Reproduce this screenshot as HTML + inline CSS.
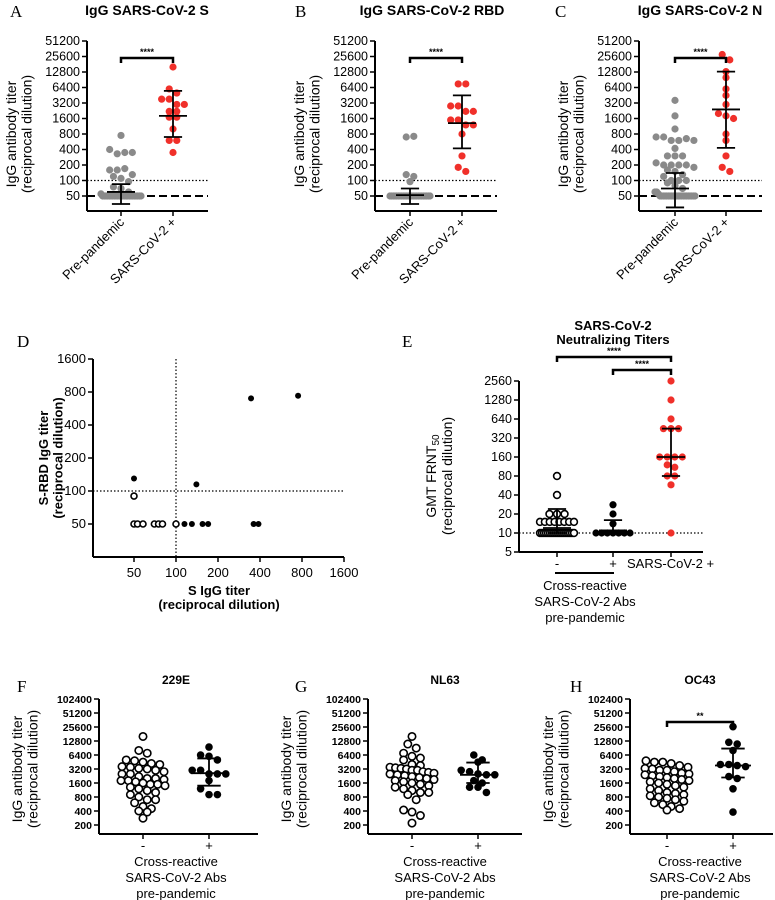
<!DOCTYPE html>
<html><head><meta charset="utf-8">
<style>
html,body{margin:0;padding:0;background:#fff;}
svg{display:block;font-family:"Liberation Sans",Arial,sans-serif;}
.lt{font-family:"Liberation Serif",serif;font-size:17px;}
</style></head>
<body>
<svg id="fig" width="775" height="900" viewBox="0 0 775 900" xmlns="http://www.w3.org/2000/svg"></svg>
<script>
// ---------- data ----------
const ticksAC = [50,100,200,400,800,1600,3200,6400,12800,25600,51200];
const ticksFH = [200,400,800,1600,3200,6400,12800,25600,51200,102400];
const ticksE = [5,10,20,40,80,160,320,640,1280,2560];
const ticksD = [50,100,200,400,800,1600];
const catsAC = ["Pre-pandemic","SARS-CoV-2 +"];
const catsFH = ["-","+"];

const aPre = [750,400,330,350,350,160,160,170,120,130,110,95,75,70,60,55,50,50,50,50,50,50,50,50,50,50,50,50,50,50,50,50,50,50,50,50,50,50,50,50];
const aPos = [16000,6000,5000,3800,3800,3000,3000,2200,2200,1700,1700,1000,600,600,350];
const aErr = [[60,35,85],[1800,700,5500]];

const bPre = [700,720,130,120,95,50,50,50,50,50,50,50,50,50,50,50,50,50,50,50,50,50,50,50,50,50,50,50,50,50];
const bPos = [7500,7500,2800,2800,2200,2200,1500,1500,1200,1200,800,300,180,150];
const bErr = [[52,35,70],[1300,420,4500]];

const cPre = [3600,1800,1000,700,700,600,600,650,600,420,300,300,300,220,200,200,200,200,180,160,150,130,120,100,100,100,90,80,70,60,60,55,50,50,50,50,50,50,50,50,50,50,50,50,50,50,50,50,50,50,50,50,50,50];
const cPos = [28000,22000,13000,10000,6000,4500,3000,2000,1800,1600,800,600,300,180,150];
const cErr = [[70,30,140],[2400,430,13000]];

const dOpenX = [50,50,53,58,70,75,80,100];
const dOpenY = [90,50,50,50,50,50,50,50];
const dFillX = [50,140,115,130,155,170,345,360,390,750];
const dFillY = [130,115,50,50,50,50,700,50,50,740];

const eNeg = [80,40,20,20,20,15,15,15,15,15,15,15,15,10,10,10,10,10,10,10,10,10,10,10,10,10,10,10,10,10,10];
const ePos = [28,20,14,10,10,10,10,10,10,10];
const eSars = [2560,1280,640,450,450,450,160,160,160,160,120,110,80,80,58,10];
const eErr = [[12,10,24],[11,10,16],[160,80,450]];

const fNeg = [16000,8000,7000,5000,4800,4500,4200,4000,3600,3500,3300,3200,3000,2800,2500,2500,2200,2000,2000,1900,1800,1800,1700,1600,1500,1500,1400,1300,1200,1100,1000,900,800,700,700,600,500,450,400,380,280];
const fPos = [9500,6400,6000,5000,3000,3000,2500,2500,2500,1800,1200,900,900];
const fErr = [2600,1400,5400];
const gNeg = [16000,11000,9000,7000,6000,5500,5000,4000,3800,3500,3400,3300,3200,3000,3000,2800,2700,2600,2500,2400,2300,2200,2100,2000,1900,1800,1700,1600,1500,1400,1300,1200,1100,1000,1000,900,700,420,380,320,220];
const gPos = [6400,5000,4500,3000,2800,2500,2400,2400,1800,1300,1300,1600,1000];
const gErr = [2400,1600,4400];
const hNeg = [4800,4500,4500,4200,3800,3500,3300,3200,3000,3000,2800,2600,2500,2400,2300,2200,2100,2000,1900,1800,1700,1600,1500,1400,1300,1200,1100,1000,950,900,850,800,750,700,650,600,550,500,450,420];
const hPos = [26000,12000,11000,8000,4000,4000,3800,3600,2200,2000,1200,380];
const hErr = [3800,2100,8800];

// ---------- helpers ----------
const NS="http://www.w3.org/2000/svg";
const fig=document.getElementById('fig');
function mk(tag,attrs,parent,txt){const e=document.createElementNS(NS,tag);for(const k in attrs)e.setAttribute(k,attrs[k]);if(txt!==undefined)e.textContent=txt;(parent||fig).appendChild(e);return e;}
function logScale(base,y0,step){return v=>y0-Math.log2(v/base)*step;}
// bin-based swarm with maximum half-width W (points overlap when crowded)
function swarm(vals,cx,yf,r,W){
  const bins=[];
  vals.forEach(v=>{const y=yf(v);let b=bins.find(b=>Math.abs(b.y-y)<r*1.6);
    if(!b){b={y:y,items:[]};bins.push(b);}b.items.push(y);});
  const out=[];
  bins.forEach(b=>{const n=b.items.length;const step=n>1?Math.min(r*2.1,2*W/(n-1)):0;
    b.items.forEach((y,i)=>{const k=i-(n-1)/2;out.push([cx+k*step,y]);});});
  return out;}
function yAxis(g,x,ticks,yf,yBot,fs,bold){
  const ax=mk('line',{x1:x,y1:yf(ticks[ticks.length-1]),x2:x,y2:yBot,stroke:'#000','stroke-width':2},g);
  
  ticks.forEach(t=>{const y=yf(t);mk('line',{x1:x-5,y1:y,x2:x,y2:y,stroke:'#000','stroke-width':1.5},g);
    const tl=mk('text',{x:x-7,y:y+4,'text-anchor':'end','font-size':fs,'font-weight':bold?'bold':'normal'},g,t);
    });}
function errBar(g,cx,yf,e,w){
  mk('line',{x1:cx,y1:yf(e[1]),x2:cx,y2:yf(e[2]),stroke:'#000','stroke-width':1.8},g);
  mk('line',{x1:cx-w,y1:yf(e[0]),x2:cx+w,y2:yf(e[0]),stroke:'#000','stroke-width':1.8},g);
  mk('line',{x1:cx-w*0.65,y1:yf(e[1]),x2:cx+w*0.65,y2:yf(e[1]),stroke:'#000','stroke-width':1.8},g);
  mk('line',{x1:cx-w*0.65,y1:yf(e[2]),x2:cx+w*0.65,y2:yf(e[2]),stroke:'#000','stroke-width':1.8},g);}
function dots(g,pts,r,fill,stroke,name){pts.forEach(p=>{const c=mk('circle',{cx:p[0],cy:p[1],r:r,fill:fill,stroke:stroke,'stroke-width':stroke==='none'?0:1.6},g);
  });}
function bracket(g,x1,x2,y,lab){mk('path',{d:`M${x1} ${y+5}V${y}H${x2}V${y+5}`,fill:'none',stroke:'#000','stroke-width':2.5},g);
  mk('text',{x:(x1+x2)/2,y:y-3,'text-anchor':'middle','font-size':9,'font-weight':'bold'},g,lab);}
function yTitle(g,x,y,l1,l2,fs,bold){const t=mk('text',{transform:`translate(${x},${y}) rotate(-90)`,'text-anchor':'middle','font-size':fs,'font-weight':bold?'bold':'normal'},g);
  
  mk('tspan',{x:0,dy:0},t,l1);mk('tspan',{x:0,dy:fs*1.1},t,l2);}

// ---------- panels A-C ----------
function panelAC(id,letter,lx,title,tx,ax,cx1,cx2,xend,pre,pos,err){
  const g=mk('g',{});
  mk('text',{x:lx,y:17,class:'lt'},g,letter);
  const tt=mk('text',{x:tx,y:15,'text-anchor':'middle','font-size':14,'font-weight':'bold'},g,title);
  
  const yf=logScale(50,196,15.5);
  yAxis(g,ax,ticksAC,yf,211,12.5,false);
  mk('line',{x1:ax,y1:211,x2:xend,y2:211,stroke:'#000','stroke-width':2},g);
  [cx1,cx2].forEach((cx,i)=>{mk('line',{x1:cx,y1:211,x2:cx,y2:216,stroke:'#000','stroke-width':1.5},g);
    const l=mk('text',{transform:`translate(${cx+4},${223}) rotate(-45)`,'text-anchor':'end','font-size':13},g,catsAC[i]);
    });
  mk('line',{x1:ax,y1:yf(100),x2:xend,y2:yf(100),stroke:'#000','stroke-width':1.2,'stroke-dasharray':'1.5,2'},g);
  mk('line',{x1:ax,y1:yf(50),x2:xend,y2:yf(50),stroke:'#000','stroke-width':2,'stroke-dasharray':'8,4'},g);
  dots(g,swarm(pre,cx1,yf,3.6,20),3.6,'#8a8a8a','none','pre-pandemic-point');
  dots(g,swarm(pos,cx2,yf,3.6,20),3.6,'#f0302a','none','sars-cov-2-point');
  errBar(g,cx1,yf,err[0],14);errBar(g,cx2,yf,err[1],14);
  bracket(g,cx1,cx2,yf(51200)+17,'****');
  yTitle(g,ax-71,yf(800),'IgG antibody titer','(reciprocal dilution)',14,false);
}
panelAC('a','A',10,'IgG SARS-CoV-2 S',147,87,121,173,208,aPre,aPos,aErr);
panelAC('b','B',295,'IgG SARS-CoV-2 RBD',432,375,410,462,497,bPre,bPos,bErr);
panelAC('c','C',555,'IgG SARS-CoV-2 N',700,639,675,726,762,cPre,cPos,cErr);

// ---------- panel D ----------
(function(){
  const g=mk('g',{});
  mk('text',{x:17,y:347,class:'lt'},g,'D');
  const yf=logScale(50,524,33);const xf=v=>134+Math.log2(v/50)*42;
  yAxis(g,93,ticksD,yf,557,13,false);
  mk('line',{x1:93,y1:557,x2:344,y2:557,stroke:'#000','stroke-width':2},g);
  ticksD.forEach(t=>{mk('line',{x1:xf(t),y1:557,x2:xf(t),y2:562,stroke:'#000','stroke-width':1.5},g);
    const l=mk('text',{x:xf(t),y:577,'text-anchor':'middle','font-size':13},g,t);
    });
  mk('line',{x1:93,y1:yf(100),x2:344,y2:yf(100),stroke:'#000','stroke-width':1.2,'stroke-dasharray':'1.5,2'},g);
  mk('line',{x1:xf(100),y1:yf(1600),x2:xf(100),y2:557,stroke:'#000','stroke-width':1.2,'stroke-dasharray':'1.5,2'},g);
  dots(g,dOpenX.map((x,i)=>[xf(x),yf(dOpenY[i])]),3,'#fff','#000','open-point');
  dots(g,dFillX.map((x,i)=>[xf(x),yf(dFillY[i])]),3,'#000','none','filled-point');
  yTitle(g,48,yf(200),'S-RBD IgG titer','(reciprocal dilution)',13,true);
  const xt=mk('text',{x:219,y:595,'text-anchor':'middle','font-size':13,'font-weight':'bold'},g);
  
  mk('tspan',{x:219,dy:0},xt,'S IgG titer');mk('tspan',{x:219,dy:14},xt,'(reciprocal dilution)');
})();

// ---------- panel E ----------
(function(){
  const g=mk('g',{});
  mk('text',{x:402,y:347,class:'lt'},g,'E');
  const t=mk('text',{x:613,y:330,'text-anchor':'middle','font-size':13,'font-weight':'bold'},g);
  
  mk('tspan',{x:613,dy:0},t,'SARS-CoV-2');mk('tspan',{x:613,dy:14},t,'Neutralizing Titers');
  const yf=logScale(5,552,19);
  yAxis(g,519,ticksE,yf,552,12.5,false);
  mk('line',{x1:519,y1:552,x2:703,y2:552,stroke:'#000','stroke-width':2},g);
  mk('line',{x1:519,y1:yf(10),x2:703,y2:yf(10),stroke:'#000','stroke-width':1.2,'stroke-dasharray':'1.5,2'},g);
  const cx=[557,613,671];
  cx.forEach(c=>mk('line',{x1:c,y1:552,x2:c,y2:557,stroke:'#000','stroke-width':1.5},g));
  dots(g,swarm(eNeg,cx[0],yf,3.6,17),3.4,'#fff','#000','cross-neg-point');
  dots(g,swarm(ePos,cx[1],yf,3.6,17),3.6,'#000','none','cross-pos-point');
  dots(g,swarm(eSars,cx[2],yf,3.6,17),3.6,'#f0302a','none','sars-cov-2-point');
  errBar(g,cx[0],yf,eErr[0],14);errBar(g,cx[1],yf,eErr[1],14);errBar(g,cx[2],yf,eErr[2],14);
  bracket(g,557,671,357,'****');bracket(g,613,671,370,'****');
  mk('text',{x:557,y:568,'text-anchor':'middle','font-size':13},g,'-');
  mk('text',{x:613,y:568,'text-anchor':'middle','font-size':13},g,'+');
  mk('text',{x:627,y:568,'font-size':13},g,'SARS-CoV-2 +');
  mk('line',{x1:555,y1:573,x2:614,y2:573,stroke:'#000','stroke-width':2},g);
  const c=mk('text',{x:585,y:590,'text-anchor':'middle','font-size':13},g);
  mk('tspan',{x:585,dy:0},c,'Cross-reactive');mk('tspan',{x:585,dy:16},c,'SARS-CoV-2 Abs');mk('tspan',{x:585,dy:16},c,'pre-pandemic');
  const yt=mk('text',{transform:`translate(436,${yf(80)}) rotate(-90)`,'text-anchor':'middle','font-size':14},g);
  
  mk('tspan',{x:0,dy:0},yt,'GMT FRNT');mk('tspan',{dy:3,'font-size':10},yt,'50');
  mk('tspan',{x:0,dy:13},yt,'(reciprocal dilution)');
})();

// ---------- panels F-H ----------
function panelFH(id,letter,lx,title,ax,c1,c2,xend,neg,pos,err,sig){
  const g=mk('g',{});
  mk('text',{x:lx,y:692,class:'lt'},g,letter);
  const tt=mk('text',{x:(c1+c2)/2,y:684,'text-anchor':'middle','font-size':12,'font-weight':'bold'},g,title);
  
  const yf=logScale(200,825,14);
  yAxis(g,ax,ticksFH,yf,834,10.5,true);
  mk('line',{x1:ax,y1:834,x2:xend,y2:834,stroke:'#000','stroke-width':2},g);
  [c1,c2].forEach((c,i)=>{mk('line',{x1:c,y1:834,x2:c,y2:839,stroke:'#000','stroke-width':1.5},g);
    const l=mk('text',{x:c,y:850,'text-anchor':'middle','font-size':13},g,catsFH[i]);
    });
  dots(g,swarm(neg,c1,yf,4,22),3.7,'#fff','#000','neg-point');
  dots(g,swarm(pos,c2,yf,4,18),3.8,'#000','none','pos-point');
  errBar(g,c2,yf,err,18);
  if(sig)bracket(g,c1,c2,722,sig);
  const c=mk('text',{x:(c1+c2)/2,y:866,'text-anchor':'middle','font-size':13},g);
  mk('tspan',{x:(c1+c2)/2,dy:0},c,'Cross-reactive');mk('tspan',{x:(c1+c2)/2,dy:16},c,'SARS-CoV-2 Abs');mk('tspan',{x:(c1+c2)/2,dy:16},c,'pre-pandemic');
  yTitle(g,ax-77,yf(3200),'IgG antibody titer','(reciprocal dilution)',14,false);
}
panelFH('f','F',17,'229E',99,143,209,258,fNeg,fPos,fErr,null);
panelFH('g','G',295,'NL63',368,412,478,522,gNeg,gPos,gErr,null);
panelFH('h','H',570,'OC43',630,667,733,773,hNeg,hPos,hErr,'**');
</script>
</body></html>
